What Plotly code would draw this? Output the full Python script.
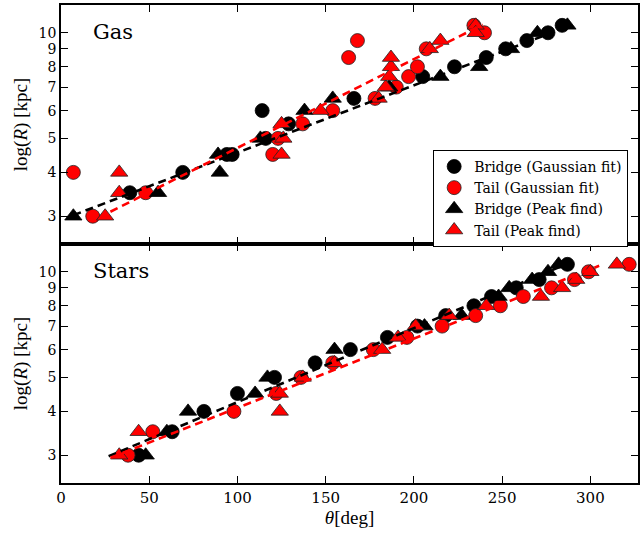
import math
import plotly.graph_objects as go

# ---------------- data (theta [deg], R [kpc]) ----------------
# Gas panel
gas_bridge_gauss_theta = [39, 69, 94, 97, 114, 116, 129, 166, 205, 223, 241, 252, 264, 276, 284]
gas_bridge_gauss_R     = [3.5, 4.0, 4.5, 4.5, 6.0, 5.0, 5.5, 6.5, 7.5, 8.0, 8.5, 9.0, 9.5, 10.0, 10.5]
gas_tail_gauss_theta   = [7, 18, 48, 120, 123, 137, 154, 163, 168, 178, 190, 197, 202, 207, 234, 240]
gas_tail_gauss_R       = [4.0, 3.0, 3.5, 4.5, 5.0, 5.5, 6.0, 8.5, 9.5, 6.5, 7.0, 7.5, 8.0, 9.0, 10.5, 10.0]
gas_bridge_peak_theta  = [7, 55, 90, 89, 113, 138, 154, 186, 215, 237, 255, 270, 287]
gas_bridge_peak_R      = [3.0, 3.5, 4.0, 4.5, 5.0, 6.0, 6.5, 7.0, 7.5, 8.0, 9.0, 10.0, 10.5]
gas_tail_peak_theta    = [25, 33, 33, 125, 126, 125, 147, 180, 184, 186, 187, 187, 209, 215, 235, 235]
gas_tail_peak_R        = [3.0, 3.5, 4.0, 4.5, 5.0, 5.5, 6.0, 6.5, 7.0, 7.5, 8.0, 8.5, 9.0, 9.5, 10.5, 10.0]
gas_fit_bridge_theta = [7, 288]
gas_fit_bridge_R     = [3.02, 10.45]
gas_fit_tail_theta   = [28, 239]
gas_fit_tail_R       = [3.09, 10.55]

# Stars panel
star_bridge_gauss_theta = [44, 63, 81, 100, 121, 144, 164, 185, 202, 218, 234, 244, 258, 271, 287]
star_bridge_gauss_R     = [3.0, 3.5, 4.0, 4.5, 5.0, 5.5, 6.0, 6.5, 7.0, 7.5, 8.0, 8.5, 9.0, 9.5, 10.5]
star_tail_gauss_theta   = [38, 52, 98, 122, 136, 154, 177, 196, 216, 235, 249, 262, 278, 291, 299, 322]
star_tail_gauss_R       = [3.0, 3.5, 4.0, 4.5, 5.0, 5.5, 6.0, 6.5, 7.0, 7.5, 8.0, 8.5, 9.0, 9.5, 10.0, 10.5]
star_bridge_peak_theta  = [48, 60, 72, 110, 117, 155, 206, 227, 248, 254, 267, 276, 282]
star_bridge_peak_R      = [3.0, 3.5, 4.0, 4.5, 5.0, 6.0, 7.0, 7.5, 8.5, 9.0, 9.5, 10.0, 10.5]
star_tail_peak_theta    = [33, 44, 124, 124, 137, 155, 182, 191, 201, 220, 241, 272, 284, 292, 300, 315]
star_tail_peak_R        = [3.0, 3.5, 4.0, 4.5, 5.0, 5.5, 6.0, 6.5, 7.0, 7.5, 8.0, 8.5, 9.0, 9.5, 10.0, 10.5]
star_fit_bridge_theta = [27, 288]
star_fit_bridge_R     = [2.98, 10.6]
star_fit_tail_theta   = [28, 305]
star_fit_tail_R       = [2.95, 10.4]

x_ticks = [0, 50, 100, 150, 200, 250, 300]
y_ticks = [3, 4, 5, 6, 7, 8, 9, 10]
panel_labels = ["Gas", "Stars"]
legend_names = ["Bridge (Gaussian fit)", "Tail (Gaussian fit)",
                "Bridge (Peak find)", "Tail (Peak find)"]

# ---------------- figure ----------------
RED = "#ff0000"
SERIF = "DejaVu Serif"
fig = go.Figure()

panels = [
    ("x2", "y2", gas_bridge_gauss_theta, gas_bridge_gauss_R, gas_tail_gauss_theta, gas_tail_gauss_R,
     gas_bridge_peak_theta, gas_bridge_peak_R, gas_tail_peak_theta, gas_tail_peak_R,
     gas_fit_bridge_theta, gas_fit_bridge_R, gas_fit_tail_theta, gas_fit_tail_R, True),
    ("x", "y", star_bridge_gauss_theta, star_bridge_gauss_R, star_tail_gauss_theta, star_tail_gauss_R,
     star_bridge_peak_theta, star_bridge_peak_R, star_tail_peak_theta, star_tail_peak_R,
     star_fit_bridge_theta, star_fit_bridge_R, star_fit_tail_theta, star_fit_tail_R, False),
]

for (xa, ya, bgt, bgr, tgt, tgr, bpt, bpr, tpt, tpr, fbt, fbr, ftt, ftr, show) in panels:
    fig.add_trace(go.Scatter(x=bgt, y=bgr, xaxis=xa, yaxis=ya, mode="markers",
                             name=legend_names[0], showlegend=show, legendgroup="a",
                             marker=dict(symbol="circle", size=14, color="black",
                                         line=dict(color="black", width=0.8))))
    fig.add_trace(go.Scatter(x=tgt, y=tgr, xaxis=xa, yaxis=ya, mode="markers",
                             name=legend_names[1], showlegend=show, legendgroup="b",
                             marker=dict(symbol="circle", size=14, color=RED,
                                         line=dict(color="#222222", width=0.8))))
    fig.add_trace(go.Scatter(x=bpt, y=bpr, xaxis=xa, yaxis=ya, mode="markers",
                             name=legend_names[2], showlegend=show, legendgroup="c",
                             marker=dict(symbol="triangle-up", size=15, color="black",
                                         line=dict(color="black", width=0.8))))
    fig.add_trace(go.Scatter(x=tpt, y=tpr, xaxis=xa, yaxis=ya, mode="markers",
                             name=legend_names[3], showlegend=show, legendgroup="d",
                             marker=dict(symbol="triangle-up", size=15, color=RED,
                                         line=dict(color="#222222", width=0.8))))
    fig.add_trace(go.Scatter(x=fbt, y=fbr, xaxis=xa, yaxis=ya, mode="lines",
                             showlegend=False, hoverinfo="skip",
                             line=dict(color="black", width=2.6, dash="8px,5px")))
    fig.add_trace(go.Scatter(x=ftt, y=ftr, xaxis=xa, yaxis=ya, mode="lines",
                             showlegend=False, hoverinfo="skip",
                             line=dict(color=RED, width=2.6, dash="8px,5px")))

yrange = [math.log10(2.5), math.log10(12)]
common_x = dict(range=[0, 327], tickvals=x_ticks, ticks="inside", ticklen=7,
                tickcolor="black", showline=True, linecolor="black", linewidth=1.5,
                mirror="ticks", showgrid=False, zeroline=False, automargin=False,
                tickfont=dict(family=SERIF, size=15, color="black"))
common_y = dict(type="log", range=yrange, tickvals=y_ticks, ticktext=[str(v) for v in y_ticks],
                ticks="inside", ticklen=7, tickcolor="black", showline=True,
                linecolor="black", linewidth=1.5, mirror="ticks", showgrid=False,
                zeroline=False, automargin=False,
                tickfont=dict(family=SERIF, size=14, color="black"),
                title=dict(text="log(<i>R</i>) [kpc]", standoff=6,
                           font=dict(family="Liberation Serif", size=19, color="black")))

fig.update_layout(
    width=641, height=536,
    margin=dict(l=61, r=3, t=5, b=53, autoexpand=False),
    paper_bgcolor="white", plot_bgcolor="white",
    xaxis=dict(domain=[0, 1], anchor="y",
               title=dict(text="<i>θ</i>[deg]", standoff=5,
                          font=dict(family="Liberation Serif", size=19, color="black")),
               **common_x),
    yaxis=dict(domain=[0, 0.5], anchor="x", **common_y),
    xaxis2=dict(domain=[0, 1], anchor="y2", matches="x", showticklabels=False, **common_x),
    yaxis2=dict(domain=[0.5, 1], anchor="x2", **common_y),
    legend=dict(x=0.645, y=0.697, xanchor="left", yanchor="top",
                bgcolor="white", bordercolor="black", borderwidth=1,
                font=dict(family=SERIF, size=14, color="black"),
                tracegroupgap=0, itemwidth=30),
    showlegend=True,
)

for lab, yref, xref in [(panel_labels[0], "y2 domain", "x2 domain"),
                        (panel_labels[1], "y domain", "x domain")]:
    fig.add_annotation(text=lab, xref=xref, yref=yref, x=0.052, y=0.885,
                       xanchor="left", yanchor="middle", showarrow=False,
                       font=dict(family=SERIF, size=21, color="black"))

fig.write_html("out.html", config={"displayModeBar": False},
               post_script="document.body.style.margin='0px';document.body.style.padding='0px';")
